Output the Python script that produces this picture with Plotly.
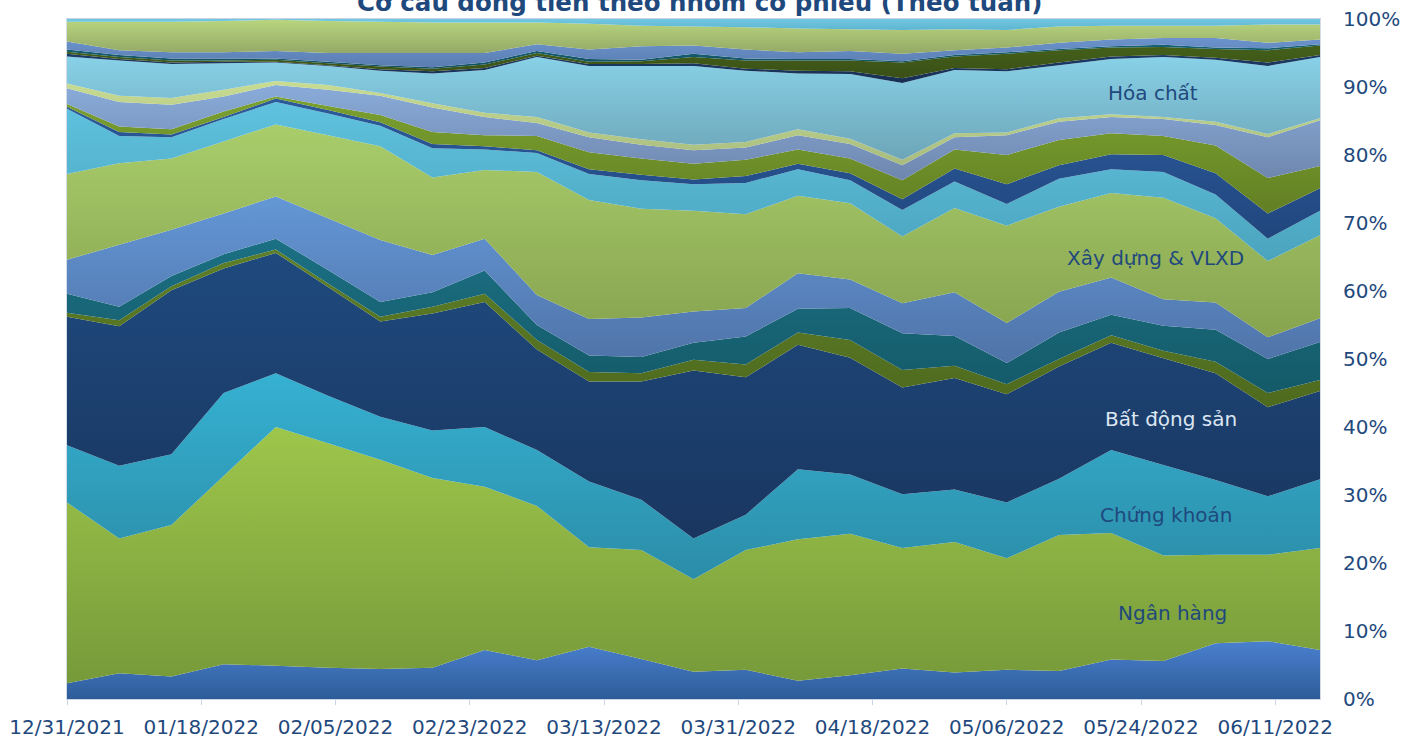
import plotly.graph_objects as go

dates = ["2021-12-31", "2022-01-07", "2022-01-14", "2022-01-21", "2022-01-28",
         "2022-02-04", "2022-02-11", "2022-02-18", "2022-02-25", "2022-03-04",
         "2022-03-11", "2022-03-18", "2022-03-25", "2022-04-01", "2022-04-08",
         "2022-04-15", "2022-04-22", "2022-04-29", "2022-05-06", "2022-05-13",
         "2022-05-20", "2022-05-27", "2022-06-03", "2022-06-10", "2022-06-17"]

s01 = [2.3, 3.8, 3.3, 5.1, 4.9, 4.6, 4.4, 4.6, 7.2, 5.7, 7.7, 5.9, 4.0, 4.3, 2.7, 3.5, 4.5, 3.9, 4.3, 4.1, 5.8, 5.6, 8.2, 8.5, 7.2]
ngan_hang = [26.6, 19.8, 22.3, 27.7, 35.1, 33.0, 30.8, 27.9, 24.0, 22.7, 14.6, 16.0, 13.6, 17.6, 20.8, 20.8, 17.7, 19.2, 16.4, 20.0, 18.6, 15.5, 13.0, 12.7, 15.0]
chung_khoan = [8.4, 10.7, 10.4, 12.2, 7.9, 7.0, 6.3, 7.0, 8.8, 8.2, 9.7, 7.4, 6.0, 5.2, 10.3, 8.7, 7.9, 7.7, 8.2, 8.3, 12.2, 13.3, 11.0, 8.6, 10.1]
bat_dong_san = [18.9, 20.5, 24.1, 18.3, 17.7, 16.0, 14.0, 17.2, 18.4, 14.8, 14.7, 17.4, 24.7, 20.2, 18.3, 17.2, 15.7, 16.4, 15.9, 16.5, 15.8, 15.7, 15.7, 13.1, 13.0]
s05 = [0.6, 0.9, 0.6, 0.8, 0.5, 0.5, 0.7, 1.0, 1.2, 1.4, 1.4, 1.2, 1.6, 1.9, 1.8, 2.6, 2.6, 1.8, 1.5, 1.1, 1.1, 1.1, 1.7, 2.1, 1.6]
s06 = [2.8, 2.0, 1.5, 1.3, 1.6, 2.0, 2.2, 2.1, 3.4, 2.2, 2.4, 2.4, 2.5, 4.1, 3.5, 4.7, 5.4, 4.4, 3.1, 3.9, 3.0, 3.7, 4.7, 5.0, 5.6]
s07 = [5.0, 9.1, 6.8, 6.0, 6.2, 7.6, 9.1, 5.5, 4.7, 4.4, 5.4, 5.8, 4.6, 4.2, 5.2, 4.2, 4.4, 6.4, 5.9, 6.0, 5.5, 3.9, 4.0, 3.2, 3.5]
xay_dung = [12.6, 12.0, 10.5, 10.6, 10.6, 12.2, 13.8, 11.4, 10.1, 18.1, 17.5, 16.0, 14.8, 13.8, 11.4, 11.2, 9.8, 12.4, 14.3, 12.5, 12.4, 14.9, 12.4, 11.2, 12.2]
s09 = [9.6, 4.0, 3.1, 3.3, 3.3, 3.2, 3.0, 4.3, 3.0, 2.8, 3.8, 4.2, 3.9, 4.6, 3.9, 3.4, 3.9, 3.9, 3.2, 4.1, 3.5, 3.8, 3.5, 3.3, 3.6]
s10 = [0.3, 0.6, 0.4, 0.3, 0.5, 0.5, 0.5, 0.6, 0.5, 0.4, 0.7, 0.8, 0.7, 1.0, 0.8, 1.0, 1.6, 1.9, 2.9, 2.0, 2.2, 2.5, 3.1, 3.7, 3.3]
s11 = [0.4, 0.8, 0.8, 0.8, 0.3, 0.6, 1.1, 1.8, 1.6, 2.1, 2.5, 2.4, 2.3, 2.4, 2.1, 2.2, 2.8, 2.8, 4.3, 3.7, 3.1, 2.8, 4.1, 5.2, 3.3]
s12 = [2.3, 3.6, 3.6, 2.2, 1.7, 2.4, 2.8, 3.6, 2.7, 1.9, 2.2, 2.0, 2.0, 1.8, 2.1, 2.1, 2.2, 1.8, 2.9, 2.7, 2.4, 2.5, 3.0, 6.0, 6.7]
s13 = [0.7, 0.9, 1.0, 1.0, 0.6, 0.7, 0.4, 0.6, 0.6, 0.9, 0.7, 0.8, 0.8, 0.8, 0.9, 0.8, 0.8, 0.6, 0.4, 0.5, 0.4, 0.3, 0.5, 0.5, 0.3]
hoa_chat = [4.0, 5.2, 5.0, 3.9, 2.7, 2.8, 3.3, 4.4, 6.3, 8.8, 9.8, 10.8, 11.6, 10.5, 8.2, 9.5, 11.3, 9.3, 9.0, 7.8, 8.1, 8.8, 9.1, 10.0, 9.0]
s15 = [0.4, 0.2, 0.2, 0.2, 0.1, 0.1, 0.2, 0.3, 0.3, 0.2, 0.3, 0.3, 0.4, 0.3, 0.4, 0.4, 0.7, 0.3, 0.3, 0.4, 0.4, 0.3, 0.3, 0.5, 0.3]
s16 = [0.3, 0.3, 0.3, 0.2, 0.3, 0.3, 0.4, 0.4, 0.5, 0.4, 0.3, 0.4, 0.9, 1.2, 1.5, 1.6, 2.3, 1.7, 2.3, 1.8, 1.3, 1.2, 1.3, 1.8, 1.4]
s17 = [0.3, 0.3, 0.3, 0.3, 0.2, 0.2, 0.2, 0.2, 0.3, 0.3, 0.4, 0.2, 0.5, 0.3, 0.2, 0.2, 0.2, 0.2, 0.2, 0.2, 0.2, 0.3, 0.2, 0.3, 0.2]
s18 = [1.2, 0.7, 0.9, 0.9, 1.1, 1.3, 1.8, 2.1, 1.4, 1.0, 1.4, 2.0, 1.2, 1.3, 1.0, 1.2, 1.1, 0.7, 0.7, 0.9, 1.0, 1.0, 1.4, 0.8, 0.7]
s19 = [2.9, 4.2, 4.5, 4.6, 4.6, 4.7, 4.6, 4.5, 4.5, 3.2, 3.8, 3.0, 2.8, 3.3, 3.5, 3.2, 3.5, 3.1, 2.6, 2.4, 2.0, 1.8, 1.8, 2.7, 2.2]
s20 = [0.4, 0.4, 0.4, 0.3, 0.1, 0.3, 0.4, 0.5, 0.5, 0.5, 0.7, 1.0, 1.1, 1.2, 1.4, 1.5, 1.6, 1.5, 1.6, 1.1, 1.0, 1.0, 1.0, 0.8, 0.8]

series_names = ["Nhóm 1", "Ngân hàng", "Chứng khoán", "Bất động sản", "Nhóm 5",
                "Nhóm 6", "Nhóm 7", "Xây dựng & VLXD", "Nhóm 9", "Nhóm 10",
                "Nhóm 11", "Nhóm 12", "Nhóm 13", "Hóa chất", "Nhóm 15",
                "Nhóm 16", "Nhóm 17", "Nhóm 18", "Nhóm 19", "Nhóm 20"]
series_values = [s01, ngan_hang, chung_khoan, bat_dong_san, s05, s06, s07, xay_dung,
                 s09, s10, s11, s12, s13, hoa_chat, s15, s16, s17, s18, s19, s20]

# (bottom colour, top colour) for the vertical gradient of each area
colors = [("#2E5C99", "#4A80CF"), ("#779A3A", "#9EC64B"), ("#2B8DA8", "#36B1D2"),
          ("#193660", "#1F4A7E"), ("#4E6A1E", "#5E7F28"), ("#145A69", "#1B7083"),
          ("#4F73A8", "#6497D6"), ("#87A34F", "#A9CD6B"), ("#4BA4BE", "#5FC2DE"),
          ("#21467D", "#2B5B9C"), ("#627F24", "#7BA12F"), ("#6E86AD", "#8AACDA"),
          ("#A7BB7F", "#C8DC92"), ("#6DA5B8", "#88D1E7"), ("#182F52", "#1C3B68"),
          ("#3A4F16", "#44601A"), ("#12505E", "#156274"), ("#5A7DB0", "#6C93CD"),
          ("#93A866", "#B8D57E"), ("#5DB5D0", "#72C8E2")]

fig = go.Figure()
for name, vals, (c0, c1) in zip(series_names, series_values, colors):
    fig.add_trace(go.Scatter(
        x=dates, y=vals, name=name, mode="none", stackgroup="one",
        groupnorm="percent" if name == "Nhóm 1" else None,
        fillcolor=c1,
        fillgradient=dict(type="vertical", colorscale=[[0, c0], [1, c1]]),
        hoverinfo="x+y+name",
    ))

TXT = "#1F497D"
FONT = "DejaVu Sans"

labels = [("Hóa chất", 0.8667, 89.1, TXT),
          ("Xây dựng & VLXD", 0.8691, 64.9, TXT),
          ("Bất động sản", 0.8811, 41.2, "#DCE6F2"),
          ("Chứng khoán", 0.8771, 27.1, TXT),
          ("Ngân hàng", 0.8819, 12.6, TXT)]
for t, xp, yv, col in labels:
    fig.add_annotation(text=t, xref="paper", yref="y", x=xp, y=yv,
                       showarrow=False, xanchor="center", yanchor="middle",
                       font=dict(family=FONT, size=20, color=col))

fig.add_annotation(text="<b>Cơ cấu dòng tiền theo nhóm cổ phiếu (Theo tuần)</b>",
                   xref="paper", yref="paper", x=0.505, y=1.025,
                   xanchor="center", yanchor="middle", showarrow=False,
                   font=dict(family=FONT, size=24.5, color=TXT))

fig.update_layout(
    width=1416, height=740,
    margin=dict(l=67, r=96, t=19, b=41, autoexpand=False),
    paper_bgcolor="white", plot_bgcolor="white",
    showlegend=False,
    font=dict(family=FONT, size=20, color=TXT),
    xaxis=dict(type="date", range=["2021-12-31", "2022-06-17"],
               tick0="2021-12-31", dtick=18 * 86400000, tickformat="%m/%d/%Y",
               ticks="outside", ticklen=5, tickcolor="#C8D3E3",
               showline=True, linecolor="#C8D3E3", linewidth=1, mirror=True,
               showgrid=False, zeroline=False, ticklabelstandoff=5,
               automargin=False,
               tickfont=dict(family=FONT, size=20, color=TXT)),
    yaxis=dict(side="right", range=[0, 100], dtick=10, ticksuffix="%",
               showgrid=False, zeroline=False, ticks="",
               showline=True, linecolor="#D5DCE6", linewidth=1, mirror=True,
               ticklabelstandoff=18, automargin=False,
               tickfont=dict(family=FONT, size=20, color=TXT)),
)

fig.write_html("out.html")
